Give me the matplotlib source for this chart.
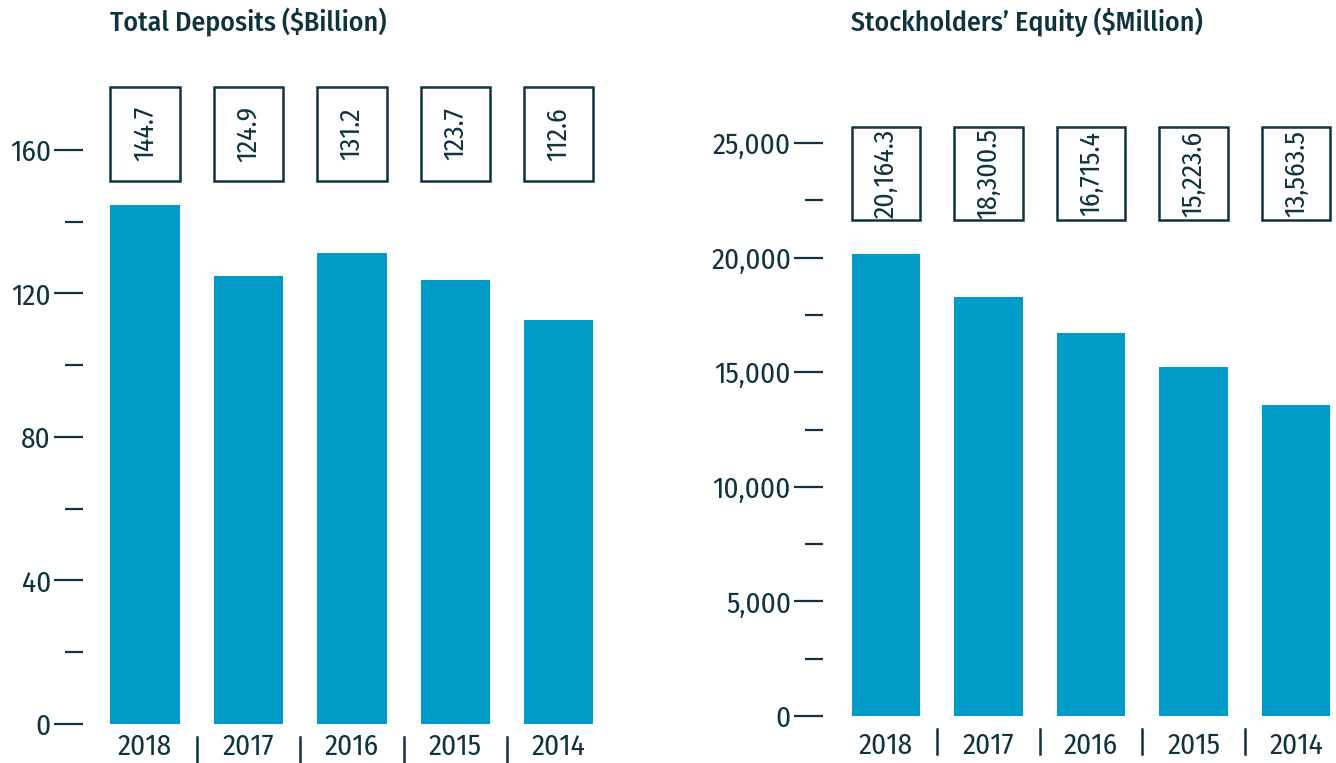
import matplotlib.pyplot as plt
from matplotlib.patches import Rectangle
from matplotlib.ticker import FuncFormatter

# data
years = ["2018", "2017", "2016", "2015", "2014"]
deposits = [144.7, 124.9, 131.2, 123.7, 112.6]
equity = [20164.3, 18300.5, 16715.4, 15223.6, 13563.5]
deposits_labels = ["144.7", "124.9", "131.2", "123.7", "112.6"]
equity_labels = ["20,164.3", "18,300.5", "16,715.4", "15,223.6", "13,563.5"]

bar_color = "#009bc6"
ink = "#0f3440"

plt.rcParams["font.family"] = ["Fira Sans Condensed", "Roboto Condensed", "DejaVu Sans"]

W, H = 1336, 763
fig = plt.figure(figsize=(W / 100, H / 100), dpi=100)


def px_axes(left, right, bottom, top):
    return fig.add_axes([left / W, (H - bottom) / H, (right - left) / W, (bottom - top) / H])


def draw_panel(ax, values, labels, xlim, ylim, major, minor, box_y, fmt, xpad):
    x = range(len(values))
    ax.bar(x, values, width=0.67, color=bar_color, zorder=2)
    ax.set_xlim(*xlim)
    ax.set_ylim(*ylim)
    for s in ax.spines.values():
        s.set_visible(False)
    ax.set_yticks(major)
    ax.set_yticks(minor, minor=True)
    ax.yaxis.set_major_formatter(FuncFormatter(fmt))
    ax.tick_params(axis="y", which="major", length=21, width=1.6, color=ink,
                   labelcolor=ink, labelsize=21, pad=2)
    ax.tick_params(axis="y", which="minor", length=13, width=1.6, color=ink)
    ax.set_xticks(list(x))
    ax.set_xticklabels(years)
    ax.tick_params(axis="x", length=0, labelcolor=ink, labelsize=21, pad=xpad)
    # thin separators between the year labels
    trans = ax.get_xaxis_transform()
    for i in range(len(values) - 1):
        ax.plot([i + 0.5, i + 0.5], [-0.02, -0.06], transform=trans,
                color=ink, lw=1.8, clip_on=False)
    y0, y1 = box_y
    for i, lab in enumerate(labels):
        ax.add_patch(Rectangle((i - 0.335, y0), 0.67, y1 - y0, fill=False,
                               edgecolor=ink, linewidth=1.8, zorder=3))
        ax.text(i, (y0 + y1) / 2, lab, rotation=90, ha="center", va="center",
                fontsize=20, color=ink)


ax1 = px_axes(83, 595, 724, 71)
draw_panel(ax1, deposits, deposits_labels, (-0.6, 4.35), (0, 182),
           [0, 40, 80, 120, 160], [20, 60, 100, 140],
           (151.4, 177.6), lambda v, p: f"{v:.0f}", 6)

ax2 = px_axes(823, 1334, 716, 80)
draw_panel(ax2, equity, equity_labels, (-0.615, 4.37), (0, 27750),
           [0, 5000, 10000, 15000, 20000, 25000], [2500, 7500, 12500, 17500, 22500],
           (21640, 25700), lambda v, p: f"{v:,.0f}", 11)

fig.text(110 / W, 1 - 22 / H, "Total Deposits ($Billion)", ha="left", va="center",
         fontsize=20, color=ink, fontweight="medium")
fig.text(851 / W, 1 - 22 / H, "Stockholders\u2019 Equity ($Million)", ha="left", va="center",
         fontsize=20, color=ink, fontweight="medium")

fig.savefig("out.png", dpi=100)
